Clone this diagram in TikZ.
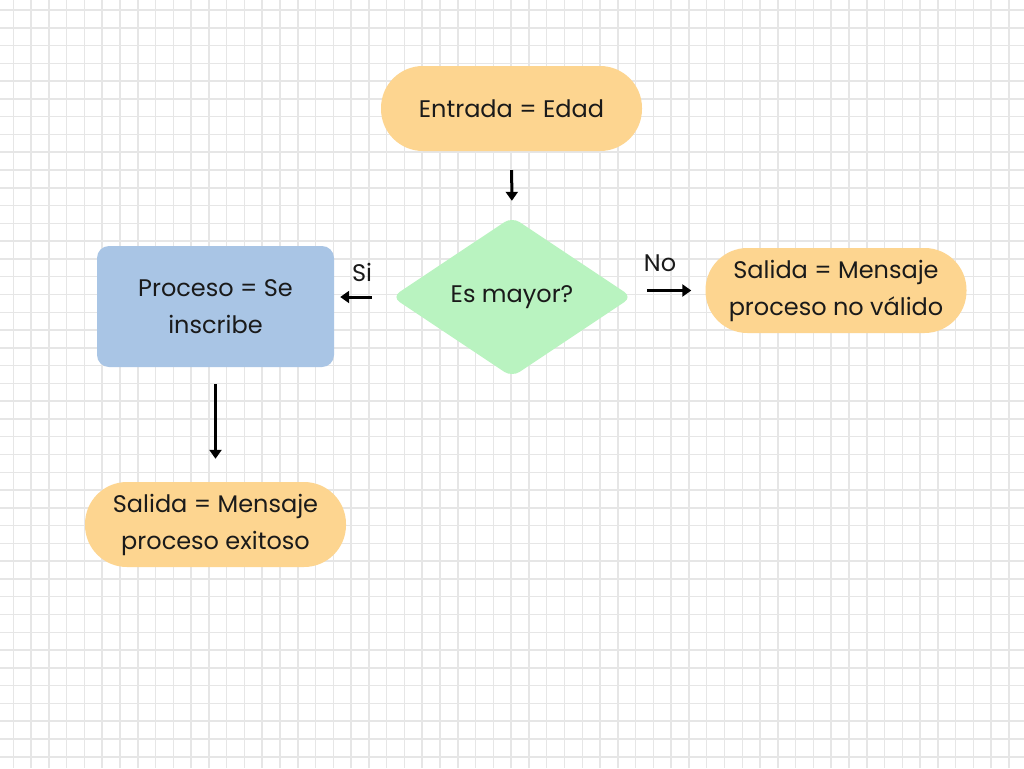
\documentclass[tikz,border=0pt]{standalone}
\usepackage{fontspec}
\setmainfont{Poppins}
\usetikzlibrary{shapes.geometric,arrows.meta,calc}
\definecolor{termfill}{HTML}{FDD590}
\definecolor{decfill}{HTML}{B9F3C0}
\definecolor{procfill}{HTML}{A9C5E5}
\definecolor{gridcol}{HTML}{E6E6E6}
\definecolor{txt}{HTML}{1A1A1A}
\newcommand{\txtfont}{\fontsize{24}{37}\selectfont}
\begin{document}
\begin{tikzpicture}[x=1pt,y=-1pt,
  gridline/.style={draw=gridcol,line width=1.5pt},
  term/.style={fill=termfill,rounded corners=42pt,minimum width=261pt,minimum height=85pt,inner sep=0pt,align=center,font=\txtfont,text=txt},
  proc/.style={fill=procfill,rounded corners=12pt,minimum width=237pt,minimum height=121pt,inner sep=0pt,align=center,font=\txtfont,text=txt},
  dec/.style={diamond,fill=decfill,rounded corners=9pt,minimum width=240pt,minimum height=160pt,inner sep=0pt,align=center,font=\txtfont,text=txt},
  lbl/.style={font=\txtfont,text=txt,inner sep=0pt},
  conn/.style={line width=3pt,-{Triangle[length=9pt,width=12pt]}}]
\useasboundingbox[fill=white] (0,0) rectangle (1024,768);
\foreach \i in {0,...,57} {\draw[gridline] ({13.3+17.78*\i},0) -- ({13.3+17.78*\i},768);}
\foreach \j in {0,...,43} {\draw[gridline] (0,{10+17.78*\j}) -- (1024,{10+17.78*\j});}

\node[term] (start) at (511.5,108.5) {Entrada = Edad};
\node[dec] (dec) at (512,297) {Es mayor?};
\node[proc] (proc) at (215.5,306.5) {Proceso = Se\\inscribe};
\node[term] (ok) at (215.5,524.5) {Salida = Mensaje\\proceso exitoso};
\node[term] (bad) at (836,290.5) {Salida = Mensaje\\proceso no válido};
\node[lbl] (si) at (362,272) {Si};
\node[lbl] (no) at (660,263) {No};

\draw[conn,shorten <=19pt,shorten >=16pt] (start.south) -- (dec.north);
\draw[conn,shorten <=20pt,shorten >=6pt] (dec.west) -- (dec.west -| proc.east);
\draw[conn,shorten <=17pt,shorten >=23pt] (proc.south) -- (ok.north);
\draw[conn,shorten <=15pt,shorten >=14pt] (dec.east |- bad.west) -- (bad.west);
\end{tikzpicture}
\end{document}
